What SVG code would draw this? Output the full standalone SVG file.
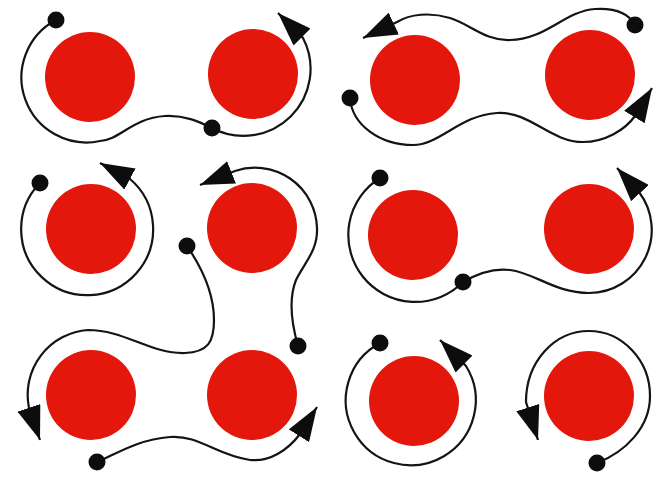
<svg xmlns="http://www.w3.org/2000/svg" width="653" height="477" viewBox="0 0 653 477">
<style>
.ball{fill:#e3170b}
.wire{fill:none;stroke:#141414;stroke-width:2.2;marker-end:url(#arr)}
.dot{fill:#0d0d0d}
</style>
<defs>
<marker id="arr" markerUnits="userSpaceOnUse" viewBox="0 0 34 24" refX="34" refY="12" markerWidth="34" markerHeight="24" orient="auto">
<path d="M0,0 L34,12 L0,24 z" fill="#0d0d0d"/>
</marker>
</defs>
<rect width="653" height="477" fill="#ffffff"/>
<g id="c1"><circle class="ball" cx="90" cy="77" r="45"/></g>
<g id="c2"><circle class="ball" cx="253" cy="74" r="45"/></g>
<g id="c3"><circle class="ball" cx="415" cy="80" r="45"/></g>
<g id="c4"><circle class="ball" cx="590" cy="75" r="45"/></g>
<g id="c5"><circle class="ball" cx="91" cy="229" r="45"/></g>
<g id="c6"><circle class="ball" cx="252" cy="228" r="45"/></g>
<g id="c7"><circle class="ball" cx="413" cy="235" r="45"/></g>
<g id="c8"><circle class="ball" cx="589" cy="229" r="45"/></g>
<g id="c9"><circle class="ball" cx="91" cy="395" r="45"/></g>
<g id="c10"><circle class="ball" cx="252" cy="395" r="45"/></g>
<g id="c11"><circle class="ball" cx="414" cy="401" r="45"/></g>
<g id="c12"><circle class="ball" cx="589" cy="396" r="45"/></g>
<g id="connectors">
<path class="wire" d="M56,20 A65,65 0 0 0 100,141 C120,140 132,118 165,116 C185,115 200,122 212,128 A67,67 0 0 0 303,38 L278,13"/>
<path class="wire" d="M635,25 C628,12 612,8 595,9 C565,11 545,40 510,40 C485,41 470,24 450,18 C430,12 410,14 397,22 L363,38"/>
<path class="wire" d="M350,98 C352,125 380,145 413,145 C440,145 460,115 497,113 C530,111 550,142 583,142 C605,142 625,130 635,116 L652,88"/>
<path class="wire" d="M40,183 A66,66 0 1 0 130,179 L100,163"/>
<path class="wire" d="M298,346 C292,325 288,300 296,280 C305,262 318,250 317,228 A62,62 0 0 0 235,171 L200,185"/>
<path class="wire" d="M187,246 C200,265 214,290 214,320 C214,342 208,352 185,353 C150,354 125,330 88,330 A65,65 0 0 0 29,408 L40,440"/>
<path class="wire" d="M380,178 A67,67 0 1 0 463,282 C480,272 495,268 510,270 C535,273 555,293 589,293 A63,63 0 0 0 639,192 L617,168"/>
<path class="wire" d="M97,462 C115,455 135,440 170,437 C200,435 215,455 250,460 C270,462 288,450 300,434 L317,407"/>
<path class="wire" d="M380,343 A65,65 0 1 0 466,366 L440,340"/>
<path class="wire" d="M597,463 C625,452 650,428 650,396 C650,360 622,331 589,331 C554,331 526,362 526,402 L538,440"/>
<circle class="dot" cx="56" cy="20" r="8.5"/>
<circle class="dot" cx="212" cy="128" r="8.5"/>
<circle class="dot" cx="635" cy="25" r="8.5"/>
<circle class="dot" cx="350" cy="98" r="8.5"/>
<circle class="dot" cx="40" cy="183" r="8.5"/>
<circle class="dot" cx="187" cy="246" r="8.5"/>
<circle class="dot" cx="298" cy="346" r="8.5"/>
<circle class="dot" cx="380" cy="178" r="8.5"/>
<circle class="dot" cx="463" cy="282" r="8.5"/>
<circle class="dot" cx="97" cy="462" r="8.5"/>
<circle class="dot" cx="380" cy="343" r="8.5"/>
<circle class="dot" cx="597" cy="463" r="8.5"/>
</g>
</svg>
